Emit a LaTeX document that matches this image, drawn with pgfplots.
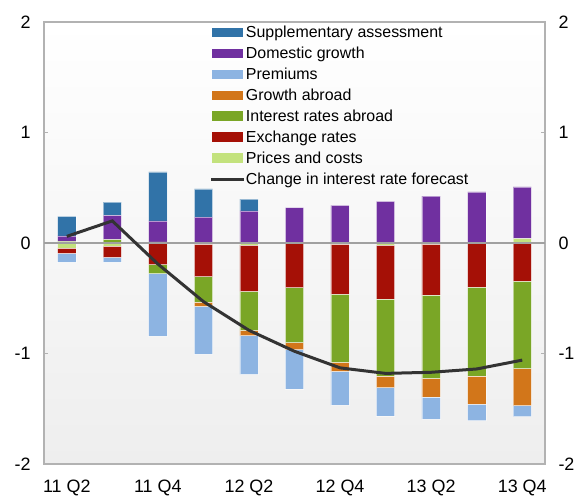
\documentclass[border=0pt]{standalone}
\usepackage{pgfplots}
\usepackage{pgfplotstable}
\pgfplotsset{compat=1.18}
\usepackage{fontspec}
\setmainfont{Liberation Sans}

\definecolor{cSupp}{RGB}{49,115,168}
\definecolor{cDom}{RGB}{112,48,160}
\definecolor{cPrem}{RGB}{141,180,226}
\definecolor{cGrow}{RGB}{210,118,26}
\definecolor{cIntr}{RGB}{122,166,38}
\definecolor{cExch}{RGB}{165,16,6}
\definecolor{cPrice}{RGB}{195,226,125}
\definecolor{cLine}{RGB}{51,51,51}
\definecolor{cFrame}{RGB}{178,178,178}
\definecolor{cZero}{RGB}{160,160,160}
\definecolor{cBg}{RGB}{238,238,238}

% negative contributions (stacked downwards from zero)
\pgfplotstableread{
x prices exch intr growth prem
0  -0.045 -0.048  0      0      -0.081
1  -0.025 -0.106  0      0      -0.042
2   0     -0.196 -0.082  0      -0.564
3  -0.010 -0.295 -0.230 -0.039  -0.431
4  -0.020 -0.417 -0.353 -0.049  -0.350
5   0     -0.404 -0.498 -0.063  -0.356
6  -0.010 -0.453 -0.618 -0.081  -0.305
7  -0.020 -0.486 -0.697 -0.105  -0.257
8  -0.010 -0.459 -0.757 -0.166  -0.202
9   0     -0.400 -0.803 -0.256  -0.148
10  0     -0.344 -0.793 -0.335  -0.100
}\negtab

% positive contributions (stacked upwards from zero)
\pgfplotstableread{
x prices intr dom supp
0  0     0.015 0.050 0.175
1  0     0.030 0.220 0.120
2  0.010 0     0.190 0.444
3  0     0     0.235 0.254
4  0     0     0.290 0.108
5  0     0     0.320 0
6  0     0     0.341 0
7  0     0     0.377 0
8  0     0     0.425 0
9  0     0     0.462 0
10 0.040 0     0.468 0
}\postab

% change in interest rate forecast
\pgfplotstableread{
x y
0  0.06
1  0.20
2  -0.19
3  -0.53
4  -0.79
5  -0.98
6  -1.13
7  -1.18
8  -1.17
9  -1.14
10 -1.06
}\linetab

\pgfplotsset{
  base/.style={
    width=501bp, height=442bp, scale only axis,
    at={(0,0)}, anchor=south west,
    xmin=-0.5, xmax=10.5, ymin=-2, ymax=2,
    tick label style={font=\fontsize{18}{21}\selectfont},
  },
  bars/.style={fill=#1, draw=white, draw opacity=0.5, line width=0.5bp},
  barleg/.style={legend image code/.code={\fill[##1] (0bp,-3.9bp) rectangle (31bp,5.5bp);}},
  lineleg/.style={legend image code/.code={\draw[##1] (-1bp,0.5bp) -- (31.5bp,0.5bp);}},
}

\begin{document}
\begin{tikzpicture}
% axis 1: background, negative stacks, left and bottom labels
\begin{axis}[base,
  axis background/.style={top color=white, bottom color=cBg},
  axis line style={draw=none},
  ybar stacked, bar width=18.3bp,
  xtick={0,2,4,6,8,10},
  xticklabels={11 Q2,11 Q4,12 Q2,12 Q4,13 Q2,13 Q4},
  xtick style={draw=none},
  xticklabel style={yshift=-12bp},
  ytick={-2,-1,0,1,2},
  yticklabels={-2,-1,0,1,2},
  ytick style={draw=none},
  yticklabel pos=left,
  yticklabel style={xshift=-10bp},
]
\addplot[bars=cPrice] table[x=x,y=prices]{\negtab};
\addplot[bars=cExch]  table[x=x,y=exch]{\negtab};
\addplot[bars=cIntr]  table[x=x,y=intr]{\negtab};
\addplot[bars=cGrow]  table[x=x,y=growth]{\negtab};
\addplot[bars=cPrem]  table[x=x,y=prem]{\negtab};
\end{axis}

% axis 2: positive stacks
\begin{axis}[base, hide axis,
  ybar stacked, bar width=18.3bp,
]
\addplot[bars=cPrice] table[x=x,y=prices]{\postab};
\addplot[bars=cIntr]  table[x=x,y=intr]{\postab};
\addplot[bars=cDom]   table[x=x,y=dom]{\postab};
\addplot[bars=cSupp]  table[x=x,y=supp]{\postab};
\end{axis}

% axis 3: frame, zero line, right labels, line and legend
\begin{axis}[base,
  axis line style={draw=cFrame, line width=2bp},
  xtick=\empty,
  ytick={-2,-1,0,1,2},
  yticklabels={-2,-1,0,1,2},
  ytick pos=both,
  yticklabel pos=right,
  yticklabel style={xshift=10bp},
  ytick style={draw=cFrame, line width=1bp},
  major tick length=4bp,
  extra y ticks={0},
  extra y tick labels={},
  extra y tick style={grid=major, major grid style={draw=cZero, line width=1.3bp}, major tick length=0pt},
  legend style={at={(0.3313,0.9912)}, anchor=north west, draw=none, fill=none,
    inner sep=0pt, outer sep=0pt, row sep=5.9bp, column sep=0.5bp,
    font=\fontsize{16}{19}\selectfont,
    nodes={inner sep=0pt, text height=12bp, text depth=3bp}},
  legend cell align=left,
]
\addlegendimage{barleg, fill=cSupp, draw=none}
\addlegendentry{Supplementary assessment}
\addlegendimage{barleg, fill=cDom, draw=none}
\addlegendentry{Domestic growth}
\addlegendimage{barleg, fill=cPrem, draw=none}
\addlegendentry{Premiums}
\addlegendimage{barleg, fill=cGrow, draw=none}
\addlegendentry{Growth abroad}
\addlegendimage{barleg, fill=cIntr, draw=none}
\addlegendentry{Interest rates abroad}
\addlegendimage{barleg, fill=cExch, draw=none}
\addlegendentry{Exchange rates}
\addlegendimage{barleg, fill=cPrice, draw=none}
\addlegendentry{Prices and costs}
\addplot[lineleg, draw=cLine, line width=3bp, mark=none] table[x=x,y=y]{\linetab};
\addlegendentry{Change in interest rate forecast}
\end{axis}

\pgfresetboundingbox
\path (-44bp,-32bp) rectangle (533bp,464bp);
\end{tikzpicture}
\end{document}
